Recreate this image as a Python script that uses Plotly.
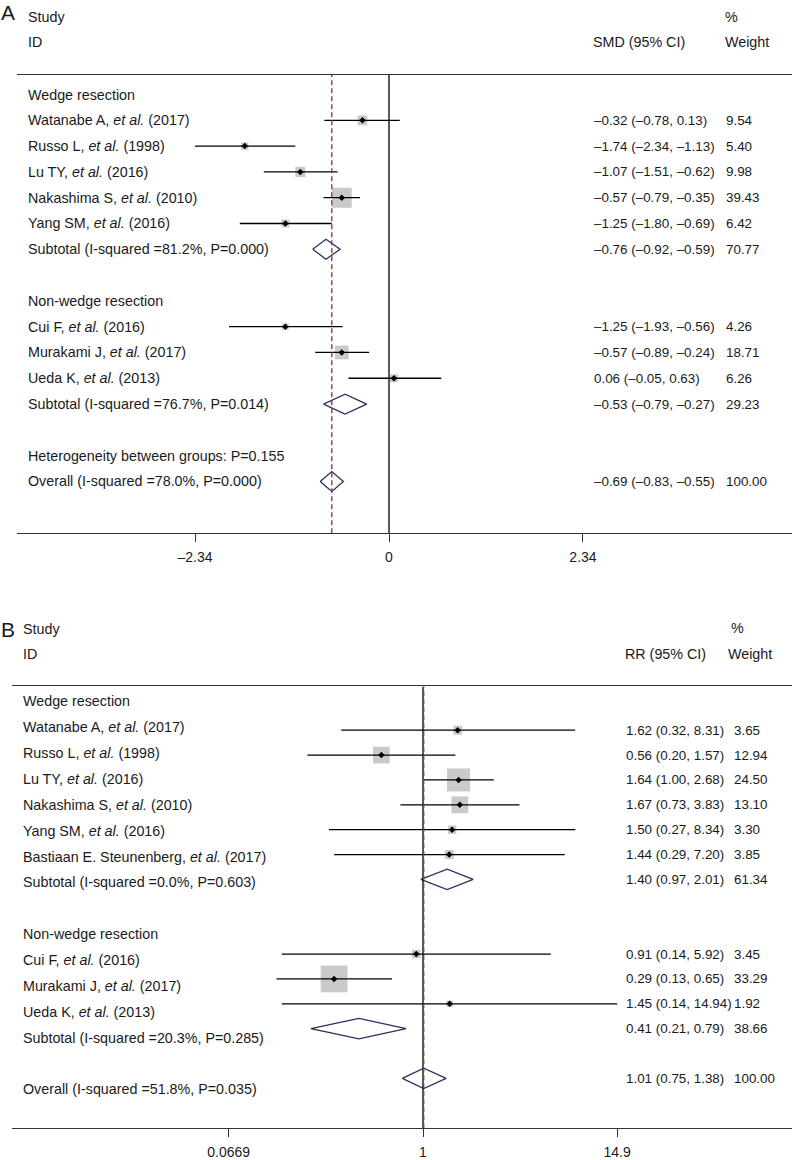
import plotly.graph_objects as go

W, H = 796, 1160
FONT = "Liberation Sans, Arial, sans-serif"
TXT = "#1a1a1a"
FS = 14.3
FSN = 13.4

# ---------------- Panel A data (SMD) ----------------
labels_a = [
    "Wedge resection",
    "Watanabe A, <i>et al.</i> (2017)",
    "Russo L, <i>et al.</i> (1998)",
    "Lu TY, <i>et al.</i> (2016)",
    "Nakashima S, <i>et al.</i> (2010)",
    "Yang SM, <i>et al.</i> (2016)",
    "Subtotal (I-squared =81.2%, P=0.000)",
    "",
    "Non-wedge resection",
    "Cui F, <i>et al.</i> (2016)",
    "Murakami J, <i>et al.</i> (2017)",
    "Ueda K, <i>et al.</i> (2013)",
    "Subtotal (I-squared =76.7%, P=0.014)",
    "",
    "Heterogeneity between groups: P=0.155",
    "Overall (I-squared =78.0%, P=0.000)",
]
study_rows_a = [1, 2, 3, 4, 5, 9, 10, 11]
est_a = [-0.32, -1.74, -1.07, -0.57, -1.25, -1.25, -0.57, 0.06]
lo_a = [-0.78, -2.34, -1.51, -0.79, -1.80, -1.93, -0.89, -0.49]
hi_a = [0.13, -1.13, -0.62, -0.35, -0.69, -0.56, -0.24, 0.63]
weight_a = [9.54, 5.40, 9.98, 39.43, 6.42, 4.26, 18.71, 6.26]
ci_text_a = ["–0.32 (–0.78, 0.13)", "–1.74 (–2.34, –1.13)", "–1.07 (–1.51, –0.62)",
             "–0.57 (–0.79, –0.35)", "–1.25 (–1.80, –0.69)", "–1.25 (–1.93, –0.56)",
             "–0.57 (–0.89, –0.24)", "0.06 (–0.05, 0.63)"]
wt_text_a = ["9.54", "5.40", "9.98", "39.43", "6.42", "4.26", "18.71", "6.26"]
pool_rows_a = [6, 12, 15]
pool_est_a = [-0.76, -0.53, -0.69]
pool_lo_a = [-0.92, -0.79, -0.83]
pool_hi_a = [-0.59, -0.27, -0.55]
pool_ci_text_a = ["–0.76 (–0.92, –0.59)", "–0.53 (–0.79, –0.27)", "–0.69 (–0.83, –0.55)"]
pool_wt_text_a = ["70.77", "29.23", "100.00"]
overall_a = -0.69
null_a = 0
ticks_a = [-2.34, 0, 2.34]
ticktext_a = ["–2.34", "0", "2.34"]

# ---------------- Panel B data (RR) ----------------
labels_b = [
    "Wedge resection",
    "Watanabe A, <i>et al.</i> (2017)",
    "Russo L, <i>et al.</i> (1998)",
    "Lu TY, <i>et al.</i> (2016)",
    "Nakashima S, <i>et al.</i> (2010)",
    "Yang SM, <i>et al.</i> (2016)",
    "Bastiaan E. Steunenberg, <i>et al.</i> (2017)",
    "Subtotal (I-squared =0.0%, P=0.603)",
    "",
    "Non-wedge resection",
    "Cui F, <i>et al.</i> (2016)",
    "Murakami J, <i>et al.</i> (2017)",
    "Ueda K, <i>et al.</i> (2013)",
    "Subtotal (I-squared =20.3%, P=0.285)",
    "",
    "Overall (I-squared =51.8%, P=0.035)",
]
study_rows_b = [1, 2, 3, 4, 5, 6, 10, 11, 12]
est_b = [1.62, 0.56, 1.64, 1.67, 1.50, 1.44, 0.91, 0.29, 1.45]
lo_b = [0.32, 0.20, 1.00, 0.73, 0.27, 0.29, 0.14, 0.13, 0.14]
hi_b = [8.31, 1.57, 2.68, 3.83, 8.34, 7.20, 5.92, 0.65, 14.94]
weight_b = [3.65, 12.94, 24.50, 13.10, 3.30, 3.85, 3.45, 33.29, 1.92]
ci_text_b = ["1.62 (0.32, 8.31)", "0.56 (0.20, 1.57)", "1.64 (1.00, 2.68)",
             "1.67 (0.73, 3.83)", "1.50 (0.27, 8.34)", "1.44 (0.29, 7.20)",
             "0.91 (0.14, 5.92)", "0.29 (0.13, 0.65)", "1.45 (0.14, 14.94)"]
wt_text_b = ["3.65", "12.94", "24.50", "13.10", "3.30", "3.85", "3.45", "33.29", "1.92"]
pool_rows_b = [7, 13, 15]
pool_est_b = [1.40, 0.41, 1.01]
pool_lo_b = [0.97, 0.21, 0.75]
pool_hi_b = [2.01, 0.79, 1.38]
pool_ci_text_b = ["1.40 (0.97, 2.01)", "0.41 (0.21, 0.79)", "1.01 (0.75, 1.38)"]
pool_wt_text_b = ["61.34", "38.66", "100.00"]
overall_b = 1.01
null_b = 1
ticks_b = [0.0669, 1, 14.9]
ticktext_b = ["0.0669", "1", "14.9"]

# ---------------- geometry (pixels) ----------------
A_x0, A_x1, A_zero, A_scale = 17, 792, 389, 82.9
A_ytop, A_ybot, A_row0, A_step = 75, 536, 95, 25.93
B_x0, B_x1, B_one, B_scale = 12, 792, 423, 165.4
B_ytop, B_ybot, B_row0, B_step = 690, 1134, 709, 25.0
B_lab0, B_labstep = 705, 26.0


def pxx(p):
    return p / W


def pxy(p):
    return 1 - p / H


A_yr = [(A_ybot - A_row0) / A_step, (A_ytop - A_row0) / A_step]
B_yr = [(B_ybot - B_row0) / B_step, (B_ytop - B_row0) / B_step]
B_lr = [(B_ybot - B_lab0) / B_labstep, (B_ytop - B_lab0) / B_labstep]

SQ_GRAY = "#b4b4b4"
NAVY = "#2d2f5f"
DASH_C = "#923c3c"

fig = go.Figure()


def add_panel(xa, ya, rows, est, lo, hi, wt, k, prow, pest, plo, phi, h, overall, null, yr):
    fig.add_trace(go.Scatter(
        x=est, y=rows, mode="markers", xaxis=xa, yaxis=ya,
        marker=dict(symbol="square", size=[k * w ** 0.5 for w in wt], color=SQ_GRAY,
                    line=dict(width=0)),
        hoverinfo="skip", showlegend=False))
    xs, ys = [], []
    for r, a, b in zip(rows, lo, hi):
        xs += [a, b, None]
        ys += [r, r, None]
    fig.add_trace(go.Scatter(x=xs, y=ys, mode="lines", xaxis=xa, yaxis=ya,
                             line=dict(color="black", width=1.3),
                             hoverinfo="skip", showlegend=False))
    fig.add_trace(go.Scatter(
        x=est, y=rows, mode="markers", xaxis=xa, yaxis=ya,
        marker=dict(symbol="diamond", size=5, color="black"),
        hoverinfo="skip", showlegend=False))
    for r, e, a, b in zip(prow, pest, plo, phi):
        fig.add_trace(go.Scatter(
            x=[a, e, b, e, a], y=[r, r - h, r, r + h, r], mode="lines",
            xaxis=xa, yaxis=ya,
            line=dict(color=NAVY, width=1.3),
            hoverinfo="skip", showlegend=False))
    fig.add_trace(go.Scatter(x=[null, null], y=yr, mode="lines", xaxis=xa, yaxis=ya,
                             line=dict(color="black", width=1.3),
                             hoverinfo="skip", showlegend=False))
    fig.add_trace(go.Scatter(x=[overall, overall], y=yr, mode="lines", xaxis=xa, yaxis=ya,
                             line=dict(color=DASH_C, width=1.4, dash="5px,3px"),
                             hoverinfo="skip", showlegend=False))


add_panel("x", "y", study_rows_a, est_a, lo_a, hi_a, weight_a, 3.18,
          pool_rows_a, pool_est_a, pool_lo_a, pool_hi_a, 10 / A_step, overall_a, null_a, A_yr)
add_panel("x2", "y2", study_rows_b, est_b, lo_b, hi_b, weight_b, 4.64,
          pool_rows_b, pool_est_b, pool_lo_b, pool_hi_b, 10.3 / B_step, overall_b, null_b, B_yr)

ann = []


def t(x, y, text, yref="paper", size=FS, xanchor="left"):
    ann.append(dict(x=x, y=y, xref="paper", yref=yref, text=text, showarrow=False,
                    xanchor=xanchor, yanchor="middle",
                    font=dict(family=FONT, size=size, color=TXT)))


# Panel A texts
t(pxx(-1), pxy(13), "A", size=21)
t(pxx(26), pxy(17), "Study")
t(pxx(26), pxy(42), "ID")
t(pxx(723), pxy(17), "%")
t(pxx(591), pxy(42), "SMD (95% CI)")
t(pxx(723), pxy(42), "Weight")
for r, lab in enumerate(labels_a):
    if lab:
        t(pxx(26), r, lab, yref="y")
for r, c, w in zip(study_rows_a + pool_rows_a, ci_text_a + pool_ci_text_a,
                   wt_text_a + pool_wt_text_a):
    t(pxx(592), r, c, yref="y", size=FSN)
    t(pxx(724), r, w, yref="y", size=FSN)

# Panel B texts
t(pxx(-1), pxy(633), "B", size=21)
t(pxx(21), pxy(632), "Study")
t(pxx(21), pxy(657), "ID")
t(pxx(729), pxy(631), "%")
t(pxx(623), pxy(657), "RR (95% CI)")
t(pxx(726), pxy(657), "Weight")
for r, lab in enumerate(labels_b):
    if lab:
        t(pxx(21), r, lab, yref="y3")
for r, c, w in zip(study_rows_b + pool_rows_b, ci_text_b + pool_ci_text_b,
                   wt_text_b + pool_wt_text_b):
    t(pxx(624), r, c, yref="y2", size=FSN)
    t(pxx(732), r, w, yref="y2", size=FSN)

axis_common = dict(showgrid=False, zeroline=False, showline=True, mirror=True,
                   linecolor="#333333", linewidth=1.3, ticks="outside", ticklen=8,
                   tickwidth=1.3, tickcolor="#333333", ticklabelstandoff=3,
                   tickfont=dict(family=FONT, size=14, color=TXT))

fig.update_layout(
    width=W, height=H, autosize=False,
    margin=dict(l=0, r=0, t=0, b=0),
    paper_bgcolor="white", plot_bgcolor="white",
    showlegend=False,
    annotations=ann,
    xaxis=dict(domain=[pxx(A_x0), pxx(A_x1)], anchor="y",
               range=[(A_x0 - A_zero) / A_scale, (A_x1 - A_zero) / A_scale],
               tickvals=ticks_a, ticktext=ticktext_a, **axis_common),
    yaxis=dict(domain=[pxy(A_ybot), pxy(A_ytop)], anchor="x", range=A_yr, visible=False),
    xaxis2=dict(domain=[pxx(B_x0), pxx(B_x1)], anchor="y2", type="log",
                range=[(B_x0 - B_one) / B_scale, (B_x1 - B_one) / B_scale],
                tickvals=ticks_b, ticktext=ticktext_b, **axis_common),
    yaxis2=dict(domain=[pxy(B_ybot), pxy(B_ytop)], anchor="x2", range=B_yr, visible=False),
    yaxis3=dict(domain=[pxy(B_ybot), pxy(B_ytop)], overlaying="y2", anchor="x2",
                range=B_lr, visible=False),
)

fig.write_html("out.html", config={"displayModeBar": False},
               post_script="document.body.style.margin='0px';")
